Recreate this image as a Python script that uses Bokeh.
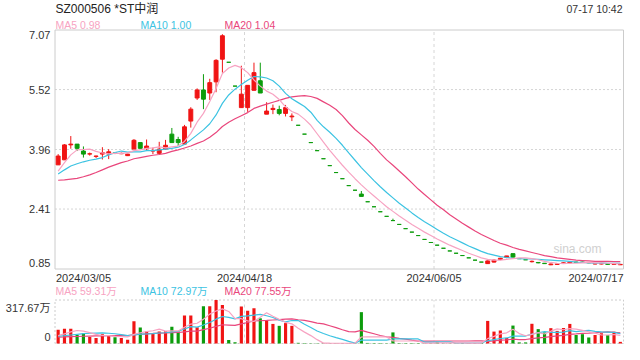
from bokeh.plotting import figure
from bokeh.models import ColumnDataSource, Range1d, Label, LabelSet
from bokeh.core.properties import value
from bokeh.embed import file_html
from bokeh.resources import INLINE

# ---------------- data ----------------
title_text = "SZ000506 *ST中润"
time_text = "07-17 10:42"
x_label_text = ["2024/03/05", "2024/04/18", "2024/06/05", "2024/07/17"]
x_label_bar = [0, 30, 60, 89]
price_ticks = [0.85, 2.41, 3.96, 5.52, 7.07]
price_tick_text = ["0.85", "2.41", "3.96", "5.52", "7.07"]
vol_ticks = [0, 317.67]
vol_tick_text = ["0", "317.67万"]
ma_names = ["MA5", "MA10", "MA20"]
ma_last = [0.98, 1.00, 1.04]
vol_ma_last = [59.31, 72.97, 77.55]

opens = [3.56, 3.69, 4.08, 4.10, 3.92, 3.84, 3.78, 3.84, 3.84, 3.87,
         3.85, 3.80, 3.97, 4.14, 3.98, 3.92, 3.86, 3.97, 4.36, 4.22,
         4.10, 4.70, 5.30, 5.51, 5.43, 5.72, 6.31, 6.23, 5.61, 5.05,
         5.05, 5.50, 5.75, 4.88, 5.00, 5.00, 4.90, 4.81, 4.59, 4.36,
         4.14, 3.93, 3.72, 3.54, 3.36, 3.20, 3.02, 2.90, 2.80, 2.60,
         2.47, 2.34, 2.22, 2.11, 2.01, 1.90, 1.81, 1.72, 1.62, 1.54,
         1.47, 1.39, 1.32, 1.26, 1.20, 1.14, 1.08, 1.03, 0.99, 1.03,
         1.10, 1.15, 1.25, 1.12, 1.09, 1.04, 1.02, 1.00, 0.96, 0.97,
         1.00, 1.01, 1.03, 1.03, 1.02, 0.98, 0.98, 0.99, 0.97, 0.96]
highs = [3.84, 4.10, 4.31, 4.10, 4.04, 3.88, 3.80, 4.02, 3.97, 3.89,
         3.88, 3.85, 4.23, 4.14, 4.22, 4.01, 4.16, 4.21, 4.52, 4.29,
         4.60, 5.06, 5.55, 5.92, 5.80, 6.31, 6.96, 6.23, 5.61, 6.14,
         5.63, 6.22, 6.22, 5.19, 5.13, 5.10, 5.12, 4.90, 4.59, 4.36,
         4.14, 3.93, 3.72, 3.54, 3.36, 3.20, 3.02, 2.90, 2.88, 2.60,
         2.47, 2.34, 2.22, 2.16, 2.01, 1.90, 1.81, 1.72, 1.62, 1.54,
         1.47, 1.39, 1.32, 1.26, 1.20, 1.14, 1.08, 1.03, 1.07, 1.10,
         1.14, 1.19, 1.25, 1.12, 1.09, 1.07, 1.03, 1.00, 0.99, 0.99,
         1.02, 1.05, 1.04, 1.04, 1.03, 1.00, 1.00, 0.99, 0.99, 0.98]
lows = [3.56, 3.69, 3.98, 3.92, 3.75, 3.80, 3.74, 3.70, 3.71, 3.84,
        3.84, 3.79, 3.97, 3.99, 3.92, 3.84, 3.83, 3.95, 4.14, 4.05,
        4.10, 4.53, 5.25, 5.01, 5.25, 5.45, 5.96, 6.23, 5.61, 5.05,
        4.94, 5.50, 5.43, 4.88, 4.88, 4.85, 4.82, 4.70, 4.59, 4.36,
        4.14, 3.93, 3.72, 3.54, 3.36, 3.20, 3.02, 2.90, 2.74, 2.60,
        2.47, 2.34, 2.22, 2.11, 2.01, 1.90, 1.81, 1.72, 1.62, 1.54,
        1.47, 1.39, 1.32, 1.26, 1.20, 1.14, 1.08, 1.03, 0.98, 1.02,
        1.08, 1.13, 1.15, 1.12, 1.09, 1.02, 1.00, 0.98, 0.95, 0.96,
        0.99, 1.00, 1.01, 1.01, 1.00, 0.97, 0.97, 0.96, 0.96, 0.96]
closes = [3.79, 4.08, 4.10, 3.99, 3.84, 3.85, 3.79, 3.88, 3.90, 3.86,
          3.86, 3.84, 4.20, 3.99, 4.05, 3.93, 3.97, 4.07, 4.14, 4.14,
          4.55, 5.01, 5.51, 5.27, 5.70, 6.28, 6.92, 6.23, 5.61, 5.40,
          5.63, 5.96, 5.43, 4.96, 5.03, 4.90, 5.05, 4.83, 4.59, 4.36,
          4.14, 3.93, 3.72, 3.54, 3.36, 3.20, 3.02, 2.90, 2.74, 2.60,
          2.47, 2.34, 2.22, 2.11, 2.01, 1.90, 1.81, 1.72, 1.62, 1.54,
          1.47, 1.39, 1.32, 1.26, 1.20, 1.14, 1.08, 1.03, 1.06, 1.08,
          1.13, 1.19, 1.16, 1.12, 1.09, 1.05, 1.01, 0.99, 0.98, 0.98,
          1.01, 1.03, 1.02, 1.02, 1.01, 0.99, 0.99, 0.97, 0.98, 0.97]

ma5 = [3.40, 3.62, 3.82, 3.95, 3.96, 3.97, 3.91, 3.87, 3.85, 3.86,
       3.86, 3.87, 3.93, 3.95, 3.99, 4.00, 4.03, 4.00, 4.03, 4.05,
       4.17, 4.38, 4.67, 4.90, 5.21, 5.55, 5.94, 6.08, 6.15, 6.09,
       5.96, 5.77, 5.61, 5.48, 5.40, 5.26, 5.07, 4.95, 4.88, 4.75,
       4.59, 4.37, 4.15, 3.94, 3.74, 3.55, 3.37, 3.20, 3.04, 2.89,
       2.75, 2.61, 2.47, 2.35, 2.23, 2.12, 2.01, 1.91, 1.81, 1.72,
       1.63, 1.55, 1.47, 1.40, 1.33, 1.26, 1.20, 1.14, 1.10, 1.08,
       1.08, 1.10, 1.12, 1.14, 1.14, 1.12, 1.09, 1.05, 1.02, 1.00,
       0.99, 1.00, 1.00, 1.01, 1.02, 1.01, 1.01, 1.00, 0.99, 0.98]
ma10 = [3.32, 3.43, 3.53, 3.59, 3.64, 3.68, 3.71, 3.75, 3.82, 3.88,
        3.92, 3.89, 3.90, 3.90, 3.93, 3.93, 3.95, 3.97, 3.99, 4.02,
        4.09, 4.21, 4.34, 4.47, 4.63, 4.86, 5.16, 5.38, 5.53, 5.65,
        5.76, 5.86, 5.85, 5.82, 5.75, 5.61, 5.42, 5.28, 5.18, 5.08,
        4.93, 4.72, 4.55, 4.41, 4.25, 4.07, 3.87, 3.68, 3.49, 3.32,
        3.15, 2.99, 2.84, 2.70, 2.56, 2.44, 2.31, 2.19, 2.08, 1.98,
        1.88, 1.78, 1.69, 1.61, 1.53, 1.45, 1.38, 1.31, 1.25, 1.21,
        1.17, 1.15, 1.13, 1.12, 1.11, 1.11, 1.10, 1.09, 1.08, 1.07,
        1.06, 1.05, 1.03, 1.02, 1.01, 1.00, 1.01, 1.00, 1.00, 1.00]
ma20 = [3.16, 3.17, 3.19, 3.21, 3.25, 3.30, 3.36, 3.43, 3.50, 3.56,
        3.62, 3.66, 3.72, 3.75, 3.78, 3.81, 3.83, 3.86, 3.91, 3.95,
        4.00, 4.05, 4.12, 4.18, 4.28, 4.40, 4.56, 4.67, 4.76, 4.84,
        4.92, 5.03, 5.09, 5.14, 5.19, 5.24, 5.29, 5.33, 5.35, 5.36,
        5.34, 5.29, 5.20, 5.11, 5.00, 4.84, 4.65, 4.48, 4.34, 4.20,
        4.04, 3.86, 3.69, 3.55, 3.40, 3.25, 3.09, 2.93, 2.79, 2.65,
        2.51, 2.39, 2.26, 2.15, 2.04, 1.94, 1.84, 1.75, 1.67, 1.59,
        1.52, 1.47, 1.41, 1.36, 1.32, 1.28, 1.24, 1.20, 1.17, 1.14,
        1.12, 1.10, 1.08, 1.07, 1.06, 1.05, 1.05, 1.05, 1.04, 1.04]

volumes = [101, 107, 107, 62, 74, 48, 40, 68, 58, 46,
           40, 27, 162, 117, 87, 73, 87, 89, 123, 87,
           205, 205, 119, 272, 272, 317.67, 282, 26, 9, 270,
           240, 258, 184, 168, 143, 129, 149, 129, 5, 3,
           2, 2, 2, 2, 2, 2, 2, 3, 229, 4,
           3, 3, 2, 81, 3, 3, 3, 3, 2, 3,
           12, 2, 2, 2, 3, 3, 3, 4, 165, 87,
           95, 40, 131, 8, 8, 144, 105, 81, 112, 92,
           113, 143, 62, 68, 44, 62, 75, 61, 86, 12]
vma5 = [57, 70, 85, 95, 90.2, 79.6, 66.2, 58.4, 57.6, 52,
        50.4, 47.8, 66.6, 78.4, 86.6, 93.2, 105.2, 90.6, 91.8, 91.8,
        118.2, 141.8, 147.8, 177.6, 214.6, 237.2, 252.6, 234, 181.4, 181,
        165.4, 160.6, 192.2, 224, 198.6, 176.4, 154.6, 143.6, 111, 83,
        57.6, 28.2, 2.8, 2.2, 2, 2, 2, 2.2, 47.6, 48,
        48.2, 48.4, 48.2, 18.6, 18.4, 18.4, 18.4, 18.6, 2.8, 2.8,
        4.6, 4.4, 4.2, 4.2, 4.2, 2.4, 2.6, 3, 35.6, 52.4,
        70.8, 78.2, 103.6, 72.2, 56.4, 66.2, 79.2, 69.2, 90, 106.8,
        100.6, 108.2, 104.4, 95.6, 86, 75.8, 62.2, 62, 65.6, 59.2]
vma10 = [53, 57, 62, 67, 72, 75, 76, 77, 75, 71.1,
         65, 57, 62.5, 68, 69.3, 71.8, 76.5, 78.6, 85.1, 89.2,
         105.7, 123.5, 119.2, 134.7, 153.2, 177.7, 197.2, 190.9, 179.5, 197.8,
         201.3, 206.6, 213.1, 202.7, 189.8, 170.9, 157.6, 167.9, 167.5, 140.8,
         117, 91.4, 73.2, 56.6, 42.5, 29.8, 15.1, 2.5, 24.9, 25,
         25.1, 25.2, 25.2, 33.1, 33.2, 33.3, 33.4, 33.4, 10.7, 10.6,
         11.5, 11.4, 11.4, 3.5, 3.5, 3.5, 3.5, 3.6, 19.9, 28.3,
         36.6, 40.4, 53.3, 53.9, 54.4, 68.5, 78.7, 86.4, 81.1, 81.6,
         83.4, 93.7, 86.8, 92.8, 96.4, 88.2, 85.2, 83.2, 80.6, 72.6]
vma20 = [47, 48, 50, 51, 53, 54, 55, 56, 57, 58,
         59, 57, 62.3, 67.5, 70.7, 73.4, 76.3, 77.8, 80.1, 80.2,
         85.4, 90.3, 90.9, 101.4, 111.3, 124.8, 136.9, 134.8, 132.3, 143.5,
         153.5, 165.1, 166.2, 168.7, 171.5, 174.3, 177.4, 179.4, 173.5, 169.3,
         159.2, 149, 143.2, 129.7, 116.2, 100.4, 86.4, 85.2, 96.2, 82.9,
         71.1, 58.3, 49.2, 44.9, 37.9, 31.6, 24.3, 18, 17.8, 17.8,
         18.3, 18.3, 18.3, 18.3, 18.4, 18.4, 18.5, 18.5, 15.3, 19.5,
         24.1, 25.9, 32.4, 28.7, 29, 36, 41.1, 45, 50.5, 55,
         60, 67.1, 70.1, 73.4, 75.4, 78.4, 82, 84.8, 80.9, 77.1]

# ---------------- style / geometry ----------------
FONT = "Liberation Sans, Arial, Noto Sans CJK SC"
UP, DOWN = "#f01414", "#0c9c0c"
MA_COLORS = ["#f7a3c2", "#3cc3e2", "#e9467c"]
TEXT = "#333333"
BORDER = "#cccccc"
GRID = "#d6d6d6"

W, H = 624, 344                 # canvas (whole canvas is the plot frame)
PX_L, PX_R = 54.5, 623.0        # price/volume box, pixels from left
P_TOP, P_BOT = 29.5, 268.5      # price box, pixels from top
V_TOP, V_BOT = 299.5, 343.0     # volume box, pixels from top

N = len(closes)
xs = list(range(N))
bw = (PX_R - PX_L) / N
x_start = -0.5 - PX_L / bw
x_end = (N - 0.5) + (W - PX_R) / bw
p_lo, p_hi = price_ticks[0], price_ticks[-1]
ppu = (P_BOT - P_TOP) / (p_hi - p_lo)
y_start = p_lo - (H - P_BOT) / ppu
y_end = p_hi + P_TOP / ppu
v_lo, v_hi = vol_ticks[0], vol_ticks[-1]
vpu = (V_BOT - V_TOP) / (v_hi - v_lo)
v_start = v_lo - (H - V_BOT) / vpu
v_end = v_hi + V_TOP / vpu

colors = []
for i in range(N):
    o, c = opens[i], closes[i]
    prev = closes[i - 1] if i > 0 else o
    colors.append(UP if (c > o or (c == o and c >= prev)) else DOWN)

src = ColumnDataSource(dict(
    x=xs, high=highs, low=lows,
    btop=[max(o, c) for o, c in zip(opens, closes)],
    bbot=[min(o, c) for o, c in zip(opens, closes)],
    vol=volumes, color=colors))

p = figure(width=W, height=H, x_range=Range1d(x_start, x_end),
           y_range=Range1d(y_start, y_end),
           x_axis_location=None, y_axis_location=None,
           min_border=0, output_backend="svg", toolbar_location=None)
p.extra_y_ranges = {"vol": Range1d(v_start, v_end)}
p.grid.visible = False
p.outline_line_color = None
p.background_fill_color = "white"
p.border_fill_color = "white"

x_left, x_right = -0.5, N - 0.5
grid_x = [b - 0.5 for b in x_label_bar[1:3]]

# ---- price box: grid + border ----
inner = price_ticks[1:-1]
p.segment(x0=[x_left] * len(inner), x1=[x_right] * len(inner), y0=inner, y1=inner,
          line_color=GRID, line_dash="2 2", line_width=1)
p.segment(x0=grid_x, x1=grid_x, y0=[p_lo] * 2, y1=[p_hi] * 2,
          line_color=GRID, line_dash="3 3", line_width=1)
p.quad(left=[x_left], right=[x_right], bottom=[p_lo], top=[p_hi],
       fill_color=None, line_color=BORDER, line_width=1)

# ---- candles ----
p.segment(x0="x", y0="high", x1="x", y1="low", line_color="color",
          line_width=1, source=src)
p.vbar(x="x", width=0.62, top="btop", bottom="bbot", fill_color="color",
       line_color="color", line_width=1, source=src)
p.line(xs, ma20, line_color=MA_COLORS[2], line_width=1.2)
p.line(xs, ma10, line_color=MA_COLORS[1], line_width=1.2)
p.line(xs, ma5, line_color=MA_COLORS[0], line_width=1.2)

# ---- volume box ----
p.segment(x0=grid_x, x1=grid_x, y0=[v_lo] * 2, y1=[v_hi] * 2, y_range_name="vol",
          line_color=GRID, line_dash="3 3", line_width=1)
p.quad(left=[x_left], right=[x_right], bottom=[v_lo], top=[v_hi], y_range_name="vol",
       fill_color=None, line_color=BORDER, line_dash="2 2", line_width=1)
p.vbar(x="x", width=0.5, top="vol", bottom=v_lo, fill_color="color",
       line_color=None, source=src, y_range_name="vol")
p.line(xs, vma20, line_color=MA_COLORS[2], line_width=1.2, y_range_name="vol")
p.line(xs, vma10, line_color=MA_COLORS[1], line_width=1.2, y_range_name="vol")
p.line(xs, vma5, line_color=MA_COLORS[0], line_width=1.2, y_range_name="vol")


def add_text(text, x, y, color=TEXT, size="11px", align="left",
             x_units="screen", y_units="screen", y_range_name="default"):
    # screen y is measured up from the canvas bottom; helper takes pixels from top
    yy = (H - y) if y_units == "screen" else y
    p.add_layout(Label(x=x, y=yy, x_units=x_units, y_units=y_units, text=text,
                       text_color=color, text_font_size=size, text_font=FONT,
                       text_align=align, text_baseline="middle",
                       y_range_name=y_range_name))


# title row
add_text(title_text, 55, 8.5, color="#222222", size="12px")
add_text(time_text, W - 2, 8.5, size="10.5px", align="right")
# legends
LEG_X = [55, 140, 224]
for nm, v, col, lx in zip(ma_names, ma_last, MA_COLORS, LEG_X):
    add_text(f"{nm} {v:.2f}", lx, 24, color=col, size="10.5px")
for nm, v, col, lx in zip(ma_names, vol_ma_last, MA_COLORS, LEG_X):
    add_text(f"{nm} {v:.2f}万", lx, 290, color=col, size="10.5px")

# y tick labels (price)
ysrc = ColumnDataSource(dict(y=price_ticks, t=price_tick_text,
                             off=[6, 0, 0, 0, -5]))
p.add_layout(LabelSet(x=PX_L - 4.5, y="y", text="t", x_units="screen", y_units="data",
                      y_offset="off", source=ysrc, text_align="right",
                      text_baseline="middle", text_font_size="11px",
                      text_font=value(FONT), text_color=TEXT))
# y tick labels (volume)
vsrc = ColumnDataSource(dict(y=vol_ticks, t=vol_tick_text, off=[7, -7.5]))
p.add_layout(LabelSet(x=PX_L - 4.5, y="y", text="t", x_units="screen", y_units="data",
                      y_offset="off", source=vsrc, text_align="right",
                      text_baseline="middle", text_font_size="11px",
                      text_font=value(FONT), text_color=TEXT, y_range_name="vol"))

# date labels between the panels
aligns = ["left", "center", "center", "right"]
for txt, b, al in zip(x_label_text, x_label_bar, aligns):
    xpos = b - 0.5 if al != "right" else b + 0.5
    p.add_layout(Label(x=xpos, y=H - 277, x_units="data", y_units="screen", text=txt,
                       text_color=TEXT, text_font_size="11px", text_font=FONT,
                       text_align=al, text_baseline="middle",
                       x_offset=(1 if al == "left" else 0)))

# watermark
add_text("sina.com", PX_R - 22, P_BOT - 20.5, color="#d0d0d0", size="12px", align="right")

open("out.html", "w").write(file_html(p, INLINE))
